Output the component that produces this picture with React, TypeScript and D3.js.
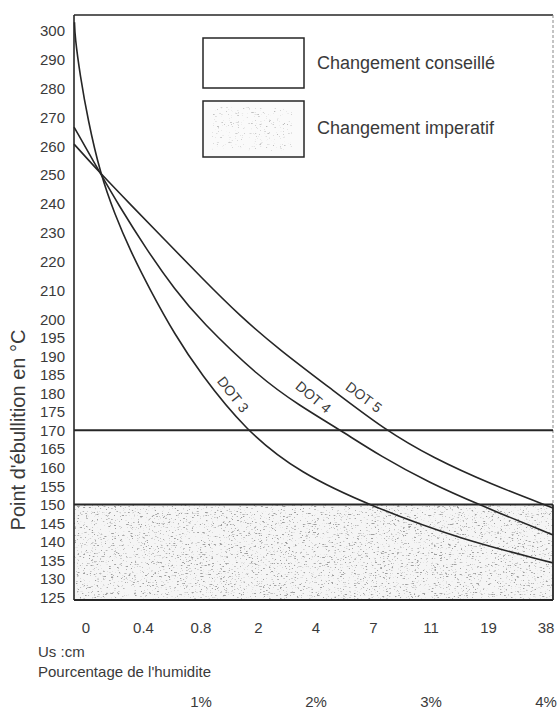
import React from "react";
import * as d3 from "d3";

// ---- data ----
const xTickLabels = ["0", "0.4", "0.8", "2", "4", "7", "11", "19", "38"];
const xTickHumidity = [0, 0.5, 1, 1.5, 2, 2.5, 3, 3.5, 4];
const pctLabels = ["1%", "2%", "3%", "4%"];
const pctValues = [1, 2, 3, 4];
const yTicks = [300, 290, 280, 270, 260, 250, 240, 230, 220, 210, 200, 195, 190, 185, 180, 175, 170, 165, 160, 155, 150, 145, 140, 135, 130, 125];
const limitAdvised = 170;
const limitMandatory = 150;

// humidity %, boiling point °C
const dot3: [number, number][] = [
  [-0.1, 303], [-0.096, 298], [-0.052, 284.7], [0.017, 269.1], [0.122, 250.7], [0.252, 236.1],
  [0.383, 223.9], [0.557, 210.1], [0.774, 195.7], [0.991, 185.5], [1.383, 170.1],
  [1.861, 158.4], [2.496, 149.4], [3.252, 140.7], [4.061, 134.3],
];
const dot4: [number, number][] = [
  [-0.104, 266.6], [0.122, 250.7], [0.278, 239.9], [0.53, 223.9], [0.774, 210.1],
  [0.991, 199.7], [1.513, 184.1], [1.861, 176.6], [2.209, 170.1], [2.557, 163.1],
  [2.991, 155.8], [3.4, 150.2], [4.061, 141.8],
];
const dot5: [number, number][] = [
  [-0.104, 260.7], [0.122, 250.7], [0.383, 239.9], [0.687, 227.4], [0.991, 214.9],
  [1.339, 201.0], [1.687, 191.6], [2.122, 181.4], [2.6, 170.1], [3.017, 162.6],
  [3.513, 155.6], [4.061, 149.1],
];
const curveNames = ["DOT 3", "DOT 4", "DOT 5"];
const curveLabelPos: [number, number, number][] = [
  [1.27, 179.5, 52], [1.97, 178.7, 40], [2.41, 178.7, 37],
];
const legendLabels = ["Changement conseillé", "Changement imperatif"];

const W = 560, H = 709;
const FONT = "'Liberation Sans', Arial, Helvetica, sans-serif";
const INK = "#262626";
const TXT = "#3a3a3a";

export default function App() {
  const left = 74, right = 553, top = 15, bottom = 600;
  const x = d3.scaleLinear().domain([0, 4]).range([86, 546]);
  const y = d3.scaleLinear().domain([124.3, 200, 305.5]).range([bottom, 319, top]);
  const line = d3
    .line<[number, number]>()
    .x((d) => x(d[0]))
    .y((d) => y(d[1]))
    .curve(d3.curveBasis);
  const series = [dot3, dot4, dot5];
  const y150 = y(limitMandatory);
  const y170 = y(limitAdvised);

  return (
    <svg
      width={W}
      height={H}
      viewBox={`0 0 ${W} ${H}`}
      style={{ position: "absolute", left: 0, top: 0, display: "block", background: "#fff" }}
      fontFamily={FONT}
    >
      <defs>
        <filter id="speckle" x="0" y="0" width="100%" height="100%" filterUnits="objectBoundingBox">
          <feTurbulence type="fractalNoise" baseFrequency="0.35 0.9" numOctaves="3" seed="7" result="noise" />
          <feColorMatrix
            in="noise"
            type="matrix"
            values="0 0 0 0 0.35  0 0 0 0 0.35  0 0 0 0 0.35  7 0 0 0 -4.3"
            result="dots"
          />
          <feComposite in="dots" in2="SourceGraphic" operator="in" />
        </filter>
        <filter id="speckleLight" x="0" y="0" width="100%" height="100%" filterUnits="objectBoundingBox">
          <feTurbulence type="fractalNoise" baseFrequency="0.35 0.9" numOctaves="3" seed="11" result="noise" />
          <feColorMatrix
            in="noise"
            type="matrix"
            values="0 0 0 0 0.5  0 0 0 0 0.5  0 0 0 0 0.5  6 0 0 0 -3.9"
            result="dots"
          />
          <feComposite in="dots" in2="SourceGraphic" operator="in" />
        </filter>
      </defs>

      {/* shaded "changement impératif" zone */}
      <rect x={left} y={y150} width={right - left} height={bottom - y150} fill="#f5f5f5" />
      <rect x={left} y={y150} width={right - left} height={bottom - y150} fill="#fff" filter="url(#speckle)" />

      {/* frame */}
      <line x1={left} x2={right} y1={top} y2={top} stroke={INK} strokeWidth={1.6} />
      <line x1={left} x2={left} y1={top} y2={bottom} stroke={INK} strokeWidth={1.6} />
      <line x1={left} x2={right} y1={bottom} y2={bottom} stroke={INK} strokeWidth={2} />
      <line x1={right} x2={right} y1={top} y2={y150} stroke="#888" strokeWidth={1} strokeDasharray="3 2" />
      <line x1={right} x2={right} y1={y150} y2={bottom} stroke={INK} strokeWidth={1.8} />

      {/* threshold lines */}
      <line x1={left} x2={right} y1={y170} y2={y170} stroke={INK} strokeWidth={2} />
      <line x1={left} x2={right} y1={y150} y2={y150} stroke={INK} strokeWidth={2} />

      {/* curves */}
      {series.map((s, i) => (
        <path key={i} d={line(s) || ""} fill="none" stroke={INK} strokeWidth={1.6} />
      ))}
      {curveNames.map((name, i) => {
        const [hx, ty, rot] = curveLabelPos[i];
        return (
          <text
            key={name}
            transform={`translate(${x(hx)},${y(ty)}) rotate(${rot})`}
            textAnchor="middle"
            dominantBaseline="middle"
            fontSize={14}
            fill={TXT}
          >
            {name}
          </text>
        );
      })}

      {/* y ticks */}
      {yTicks.map((t) => (
        <text key={t} x={65} y={y(t)} textAnchor="end" dominantBaseline="central" fontSize={15} fill={TXT}>
          {t}
        </text>
      ))}
      <text
        transform={`translate(25,430) rotate(-90)`}
        textAnchor="middle"
        fontSize={20}
        fill={TXT}
      >
        Point d'ébullition en °C
      </text>

      {/* x ticks */}
      {xTickLabels.map((l, i) => (
        <text key={l} x={x(xTickHumidity[i])} y={627} textAnchor="middle" dominantBaseline="central" fontSize={15} fill={TXT}>
          {l}
        </text>
      ))}
      <text x={38} y={651} dominantBaseline="central" fontSize={15} fill={TXT}>
        Us :cm
      </text>
      <text x={38} y={671} dominantBaseline="central" fontSize={15} fill={TXT}>
        Pourcentage de l'humidite
      </text>
      {pctLabels.map((l, i) => (
        <text key={l} x={x(pctValues[i])} y={701} textAnchor="middle" dominantBaseline="central" fontSize={15} fill={TXT}>
          {l}
        </text>
      ))}

      {/* legend */}
      <rect x={203} y={38} width={101} height={50} fill="#fff" stroke={INK} strokeWidth={1.5} />
      <rect x={203} y={101} width={101} height={56} fill="#fafafa" stroke={INK} strokeWidth={1.5} />
      <rect x={212} y={107} width={80} height={44} fill="#fff" filter="url(#speckleLight)" />
      <text x={317} y={63} dominantBaseline="central" fontSize={18} fill={TXT}>
        {legendLabels[0]}
      </text>
      <text x={317} y={128} dominantBaseline="central" fontSize={18} fill={TXT}>
        {legendLabels[1]}
      </text>
    </svg>
  );
}
